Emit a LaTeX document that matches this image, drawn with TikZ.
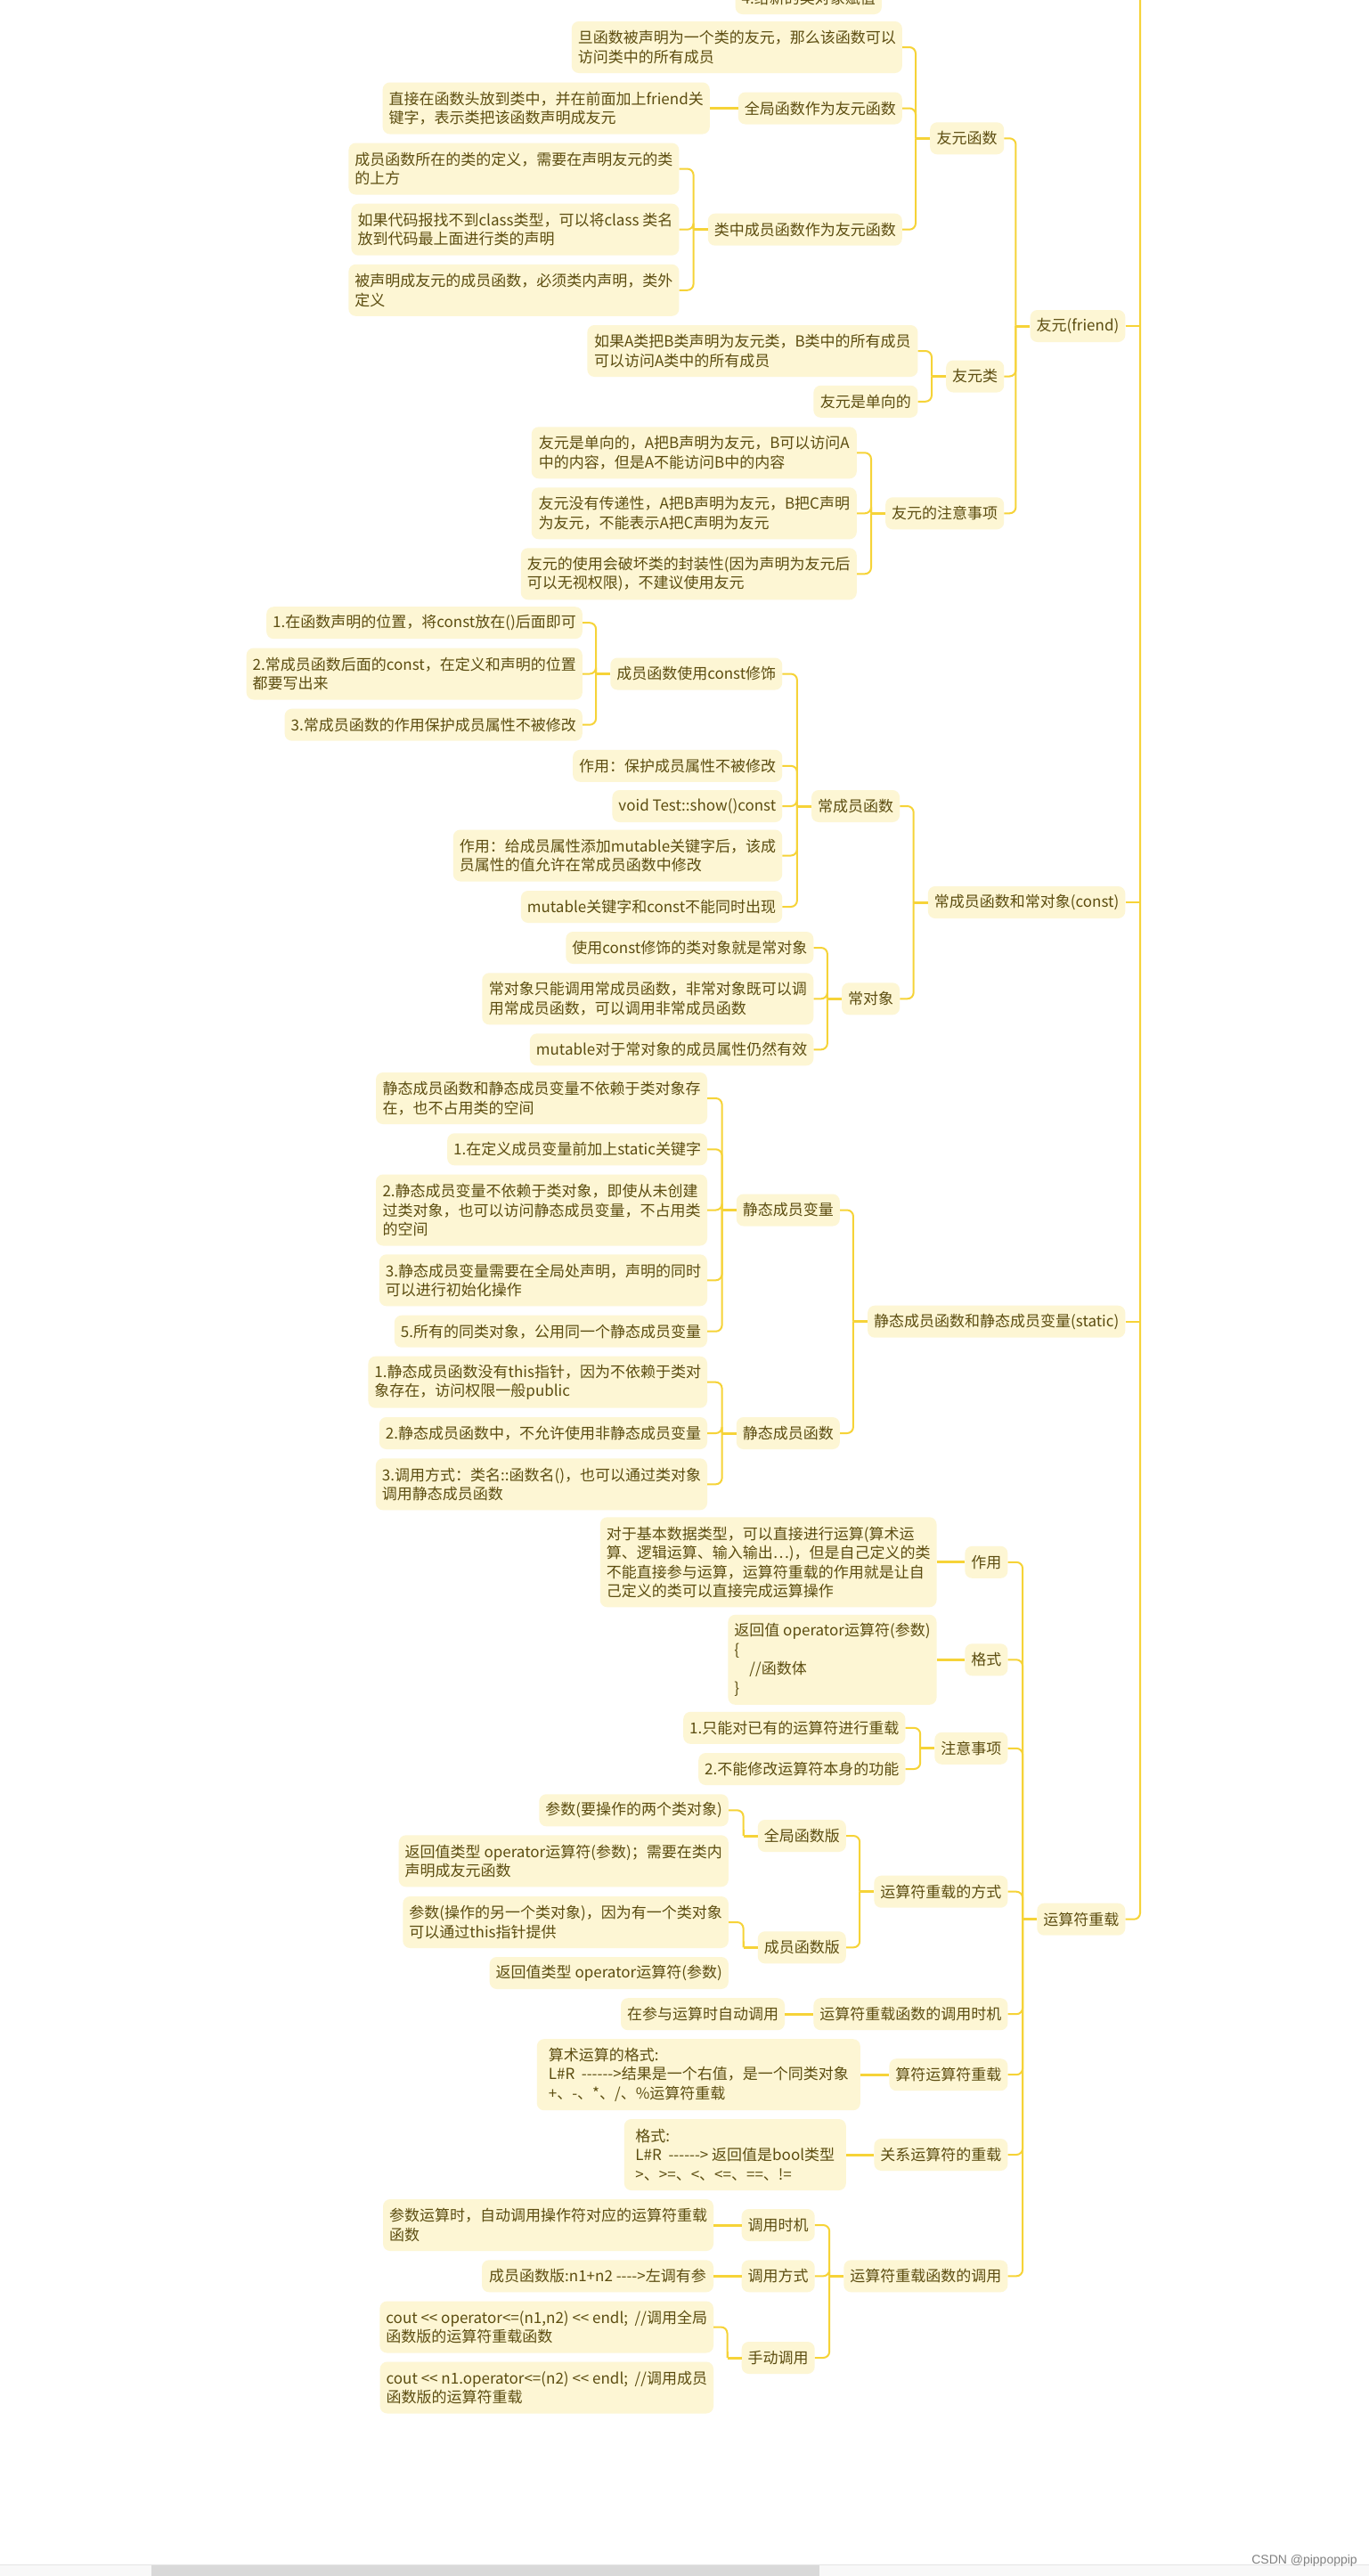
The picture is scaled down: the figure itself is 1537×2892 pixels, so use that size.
\documentclass[tikz,border=0pt]{standalone}
\usepackage{fontspec}
\newfontfamily\cjk{Noto Sans CJK SC}
\newfontfamily\wmfont{Liberation Sans}
\usetikzlibrary{calc}
\definecolor{boxfill}{RGB}{253,246,212}
\definecolor{txt}{RGB}{92,77,16}
\definecolor{lin}{RGB}{246,211,56}
\definecolor{sbtrack}{RGB}{248,248,248}
\definecolor{sbthumb}{RGB}{217,217,217}
\begin{document}
\begin{tikzpicture}[x=1pt,y=-1pt,
  box/.style={draw=none, fill=boxfill, rounded corners=8pt, text=txt,
    font=\cjk\fontsize{17}{21.5}\selectfont, inner xsep=7pt, inner ysep=3pt,
    anchor=east, align=left},
  l1/.style={minimum height=36pt},
  l2/.style={minimum height=58pt},
  l3/.style={minimum height=80pt},
  l4/.style={minimum height=101pt},
  conn/.style={draw=lin, line width=2pt, rounded corners=7pt},
  stub/.style={draw=lin, line width=3pt},
]
\fill[white] (0,0) rectangle (1537,2892);
\useasboundingbox (0,0) rectangle (1537,2892);

% ---------- friend ----------
\node[box,l1,minimum width=163pt] (N0) at (990,-2) {4.给新的类对象赋值};
\node[box,l2,minimum width=371pt] (A) at (1013,53) {旦函数被声明为一个类的友元，那么该函数可以\\访问类中的所有成员};
\node[box,l1,minimum width=184pt] (B) at (1013,121.5) {全局函数作为友元函数};
\node[box,l2,minimum width=365pt] (B1) at (797,121.5) {直接在函数头放到类中，并在前面加上friend关\\键字，表示类把该函数声明成友元};
\node[box,l1,minimum width=83pt] (C) at (1127.4,155.3) {友元函数};
\node[box,l2,minimum width=371pt] (D1) at (762.6,189.5) {成员函数所在的类的定义，需要在声明友元的类\\的上方};
\node[box,l2,minimum width=368pt] (D2) at (762.6,257.7) {如果代码报找不到class类型，可以将class 类名\\放到代码最上面进行类的声明};
\node[box,l1,minimum width=217pt] (D) at (1013,257.7) {类中成员函数作为友元函数};
\node[box,l2,minimum width=371pt] (D3) at (762.6,325.8) {被声明成友元的成员函数，必须类内声明，类外\\定义};
\node[box,l1,minimum width=103pt] (E) at (1263.5,366) {友元(friend)};
\node[box,l2,minimum width=371pt] (F1) at (1030.6,394) {如果A类把B类声明为友元类，B类中的所有成员\\可以访问A类中的所有成员};
\node[box,l1,minimum width=64pt] (F) at (1127.4,422.5) {友元类};
\node[box,l1,minimum width=117pt] (F2) at (1030.6,450.8) {友元是单向的};
\node[box,l2,minimum width=365pt] (G1) at (962,508.3) {友元是单向的，A把B声明为友元，B可以访问A\\中的内容，但是A不能访问B中的内容};
\node[box,l2,minimum width=365pt] (G2) at (962,576.3) {友元没有传递性，A把B声明为友元，B把C声明\\为友元，不能表示A把C声明为友元};
\node[box,l1,minimum width=132pt] (G) at (1127.4,576.3) {友元的注意事项};
\node[box,l2,minimum width=377pt] (G3) at (962,644.3) {友元的使用会破坏类的封装性(因为声明为友元后\\可以无视权限)，不建议使用友元};

% ---------- const ----------
\node[box,l1,minimum width=349pt] (H1) at (654,699.2) {1.在函数声明的位置，将const放在()后面即可};
\node[box,l2,minimum width=373pt] (H2) at (654,756.5) {2.常成员函数后面的const，在定义和声明的位置\\都要写出来};
\node[box,l1,minimum width=191pt] (H) at (878.4,756.5) {成员函数使用const修饰};
\node[box,l1,minimum width=332pt] (H3) at (654,813.7) {3.常成员函数的作用保护成员属性不被修改};
\node[box,l1,minimum width=233pt] (I1) at (878.4,859.8) {作用：保护成员属性不被修改};
\node[box,l1,minimum width=179pt] (I2) at (878.4,905) {void Test::show()const};
\node[box,l1,minimum width=97pt] (I) at (1010.3,905) {常成员函数};
\node[box,l2,minimum width=365pt] (I3) at (878.4,960.5) {作用：给成员属性添加mutable关键字后，该成\\员属性的值允许在常成员函数中修改};
\node[box,l1,minimum width=287pt] (I4) at (878.4,1018) {mutable关键字和const不能同时出现};
\node[box,l1,minimum width=220pt] (J) at (1263.5,1013) {常成员函数和常对象(const)};
\node[box,l1,minimum width=278pt] (K1) at (913.5,1064) {使用const修饰的类对象就是常对象};
\node[box,l2,minimum width=372pt] (K2) at (913.5,1121.3) {常对象只能调用常成员函数，非常对象既可以调\\用常成员函数，可以调用非常成员函数};
\node[box,l1,minimum width=64pt] (K) at (1010.3,1121.3) {常对象};
\node[box,l1,minimum width=316pt] (K3) at (913.5,1178.3) {mutable对于常对象的成员属性仍然有效};

% ---------- static ----------
\node[box,l2,minimum width=372pt] (L1) at (794.2,1233) {静态成员函数和静态成员变量不依赖于类对象存\\在，也不占用类的空间};
\node[box,l1,minimum width=287pt] (L2) at (794.2,1290.3) {1.在定义成员变量前加上static关键字};
\node[box,l3,minimum width=372pt] (L3) at (794.2,1358.5) {2.静态成员变量不依赖于类对象，即使从未创建\\过类对象，也可以访问静态成员变量，不占用类\\的空间};
\node[box,l1,minimum width=116pt] (L) at (943,1358.5) {静态成员变量};
\node[box,l2,minimum width=367pt] (L4) at (794.2,1437.3) {3.静态成员变量需要在全局处声明，声明的同时\\可以进行初始化操作};
\node[box,l1,minimum width=350pt] (L5) at (794.2,1494.7) {5.所有的同类对象，公用同一个静态成员变量};
\node[box,l1,minimum width=289pt] (M) at (1263.5,1483.7) {静态成员函数和静态成员变量(static)};
\node[box,l2,minimum width=374pt] (N1) at (794.2,1551.7) {1.静态成员函数没有this指针，因为不依赖于类对\\象存在，访问权限一般public};
\node[box,l1,minimum width=368pt] (N2) at (794.2,1609) {2.静态成员函数中，不允许使用非静态成员变量};
\node[box,l1,minimum width=116pt] (N) at (943,1609) {静态成员函数};
\node[box,l2,minimum width=368pt] (N3) at (794.2,1666.3) {3.调用方式：类名::函数名()，也可以通过类对象\\调用静态成员函数};

% ---------- operator ----------
\node[box,l4,minimum width=370pt] (O1) at (1051.7,1753.8) {对于基本数据类型，可以直接进行运算(算术运\\算、逻辑运算、输入输出…)，但是自己定义的类\\不能直接参与运算，运算符重载的作用就是让自\\己定义的类可以直接完成运算操作};
\node[box,l1,minimum width=47pt] (O) at (1131.6,1753.8) {作用};
\node[box,l4,minimum width=231pt] (P1) at (1051.7,1863.3) {返回值 operator运算符(参数)\\\{\\\hspace*{17pt}//函数体\\\}};
\node[box,l1,minimum width=47pt] (P) at (1131.6,1863.3) {格式};
\node[box,l1,minimum width=243pt] (Q1) at (1016.6,1939.8) {1.只能对已有的运算符进行重载};
\node[box,l1,minimum width=80pt] (Q) at (1131.6,1962.8) {注意事项};
\node[box,l1,minimum width=230pt] (Q2) at (1016.6,1986) {2.不能修改运算符本身的功能};
\node[box,l1,minimum width=211pt] (R1a) at (818,2032.3) {参数(要操作的两个类对象)};
\node[box,l1,minimum width=98pt] (R1) at (950,2061) {全局函数版};
\node[box,l2,minimum width=368pt] (R1b) at (818,2089.3) {返回值类型 operator运算符(参数)；需要在类内\\声明成友元函数};
\node[box,l1,minimum width=149pt] (R) at (1131.6,2123.7) {运算符重载的方式};
\node[box,l1,minimum width=98pt] (S) at (1263.5,2154.7) {运算符重载};
\node[box,l2,minimum width=365pt] (R2a) at (818,2158) {参数(操作的另一个类对象)，因为有一个类对象\\可以通过this指针提供};
\node[box,l1,minimum width=98pt] (R2) at (950,2186.3) {成员函数版};
\node[box,l1,minimum width=264pt] (R2b) at (818,2215) {返回值类型 operator运算符(参数)};
\node[box,l1,minimum width=217pt] (T) at (1131.6,2261.2) {运算符重载函数的调用时机};
\node[box,l1,minimum width=183pt] (T1) at (881.2,2261.2) {在参与运算时自动调用};
\node[box,l3,minimum width=363pt] (U1) at (966,2329.2) {算术运算的格式:\\L\#R\ \ ------>结果是一个右值，是一个同类对象\\+、-、*、/、\%运算符重载};
\node[box,l1,minimum width=132pt] (U) at (1131.6,2329.2) {算符运算符重载};
\node[box,l3,minimum width=249pt] (V1) at (950,2419) {格式:\\L\#R\ \ ------> 返回值是bool类型\\>、>=、<、<=、==、!=};
\node[box,l1,minimum width=148pt] (V) at (1131.6,2419) {关系运算符的重载};
\node[box,l2,minimum width=371pt] (W1) at (801.2,2498) {参数运算时，自动调用操作符对应的运算符重载\\函数};
\node[box,l1,minimum width=81pt] (W) at (914.9,2498) {调用时机};
\node[box,l1,minimum width=183pt] (X) at (1131.6,2555.3) {运算符重载函数的调用};
\node[box,l1,minimum width=260pt] (W2a) at (801.2,2555.3) {成员函数版:n1+n2 ---->左调有参};
\node[box,l1,minimum width=81pt] (W2) at (914.9,2555.3) {调用方式};
\node[box,l2,minimum width=367pt] (W3a) at (801.2,2612.5) {cout << operator<=(n1,n2) << endl;\ \ //调用全局\\函数版的运算符重载函数};
\node[box,l1,minimum width=81pt] (W3) at (914.9,2647) {手动调用};
\node[box,l2,minimum width=365pt] (W3b) at (801.2,2680.5) {cout << n1.operator<=(n2) << endl;\ \ //调用成员\\函数版的运算符重载};

% ---------- connectors ----------
\coordinate (rt) at (1280,-40);
\draw[conn] (rt) |- (S.east);
\foreach \c in {E,J,M} {\draw[conn] (\c.east) -- (\c.east -| rt);}

\foreach \p/\kids in {E/{C,F,G}, C/{A,B,D}, D/{D1,D2,D3}, F/{F1,F2}, G/{G1,G2,G3},
  J/{I,K}, I/{H,I1,I2,I3,I4}, H/{H1,H2,H3}, K/{K1,K2,K3},
  M/{L,N}, L/{L1,L2,L3,L4,L5}, N/{N1,N2,N3},
  S/{O,P,Q,R,T,U,V,X}, Q/{Q1,Q2}, R/{R1,R2}, R1/{R1a,R1b}, R2/{R2a,R2b},
  X/{W,W2,W3}, W3/{W3a,W3b}} {
  \coordinate (\p b) at ([xshift=-16pt]\p.west);
  \foreach \c in \kids {\draw[conn] (\c.east) -| (\p b);}
  \draw[stub] (\p.west) -- (\p b);
}
\foreach \p/\c in {B/B1, O/O1, P/P1, T/T1, U/U1, V/V1, W/W1, W2/W2a} {
  \draw[stub] (\p.west) -- (\c.east);
}

% ---------- scrollbar and watermark ----------
\fill[sbtrack] (0,2879) rectangle (1537,2892);
\draw[gray!20, line width=1pt] (0,2879) -- (1537,2879);
\fill[sbthumb] (170,2880) rectangle (920,2892);
\node[anchor=east, text=gray, inner sep=0pt, font=\wmfont\fontsize{14}{14}\selectfont] (wm) at (1524,2875) {CSDN @pippoppip};
\end{tikzpicture}
\end{document}
